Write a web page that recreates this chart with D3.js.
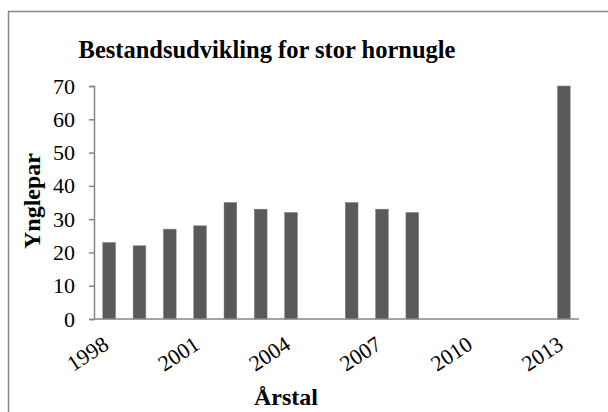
<!DOCTYPE html>
<meta charset="utf-8">
<style>
  body { margin: 0; background: #fff; }
  text { font-family: "Liberation Serif", "Times New Roman", serif; }
</style>
<svg width="608" height="412"></svg>
<script src="https://d3js.org/d3.v7.min.js"></script>
<script>

var years = ["1998", "1999", "2000", "2001", "2002", "2003", "2004", "2005",
             "2006", "2007", "2008", "2009", "2010", "2011", "2012", "2013"],
    pairs = [23, 22, 27, 28, 35, 33, 32, null, 35, 33, 32, null, null, null, null, 70],
    yTicks = [0, 10, 20, 30, 40, 50, 60, 70],
    xTicks = ["1998", "2001", "2004", "2007", "2010", "2013"];

var svg = d3.select("svg"),
    plotLeft = 94, plotRight = 579, plotTop = 86, plotBottom = 319;

var x = d3.scaleBand().domain(years).range([plotLeft, plotRight]).paddingInner(0.58).paddingOuter(0.29),
    y = d3.scaleLinear().domain([0, 70]).range([plotBottom, plotTop]);

// outer frame
svg.append("rect")
    .attr("x", 8.5).attr("y", 11.5).attr("width", 620).attr("height", 420)
    .attr("fill", "none").attr("stroke", "#868686").attr("stroke-width", 1.5);

svg.append("text")
    .attr("x", 267).attr("y", 58)
    .attr("text-anchor", "middle")
    .attr("font-size", 24.5).attr("font-weight", "bold")
    .text("Bestandsudvikling for stor hornugle");

svg.selectAll(".bar")
    .data(years.map(function(d, i) { return {year: d, value: pairs[i]}; })
      .filter(function(d) { return d.value != null; }))
  .enter().append("rect")
    .attr("x", function(d) { return x(d.year); })
    .attr("width", x.bandwidth())
    .attr("y", function(d) { return y(d.value); })
    .attr("height", function(d) { return plotBottom - y(d.value); })
    .attr("fill", "#595959")
    .attr("stroke", "#7f7f7f").attr("stroke-width", 0.5);

var yAxis = svg.append("g")
    .attr("transform", "translate(" + plotLeft + ",0)")
    .call(d3.axisLeft(y).tickValues(yTicks).tickSize(5).tickPadding(14));
yAxis.select(".domain").attr("stroke", "#868686").attr("stroke-width", 1.5);
yAxis.selectAll(".tick line").attr("stroke", "#868686").attr("stroke-width", 1.5);
yAxis.selectAll("text")
    .attr("font-family", "Liberation Serif").attr("font-size", 22).attr("fill", "#000");

var xAxis = svg.append("g")
    .attr("transform", "translate(0," + plotBottom + ")")
    .call(d3.axisBottom(x).tickValues(xTicks).tickSize(0).tickPadding(0));
xAxis.select(".domain").attr("stroke", "#868686").attr("stroke-width", 1.5)
    .attr("d", "M" + plotLeft + ",0H" + plotRight);
xAxis.selectAll("text")
    .attr("font-family", "Liberation Serif").attr("font-size", 22).attr("fill", "#000")
    .attr("text-anchor", "end")
    .attr("dy", null)
    .attr("transform", "translate(1,29) rotate(-33)");

svg.append("text")
    .attr("x", 286).attr("y", 405)
    .attr("text-anchor", "middle")
    .attr("font-size", 24).attr("font-weight", "bold")
    .text("Årstal");

svg.append("text")
    .attr("transform", "translate(40,201) rotate(-90)")
    .attr("text-anchor", "middle")
    .attr("font-size", 24).attr("font-weight", "bold")
    .text("Ynglepar");

</script>
